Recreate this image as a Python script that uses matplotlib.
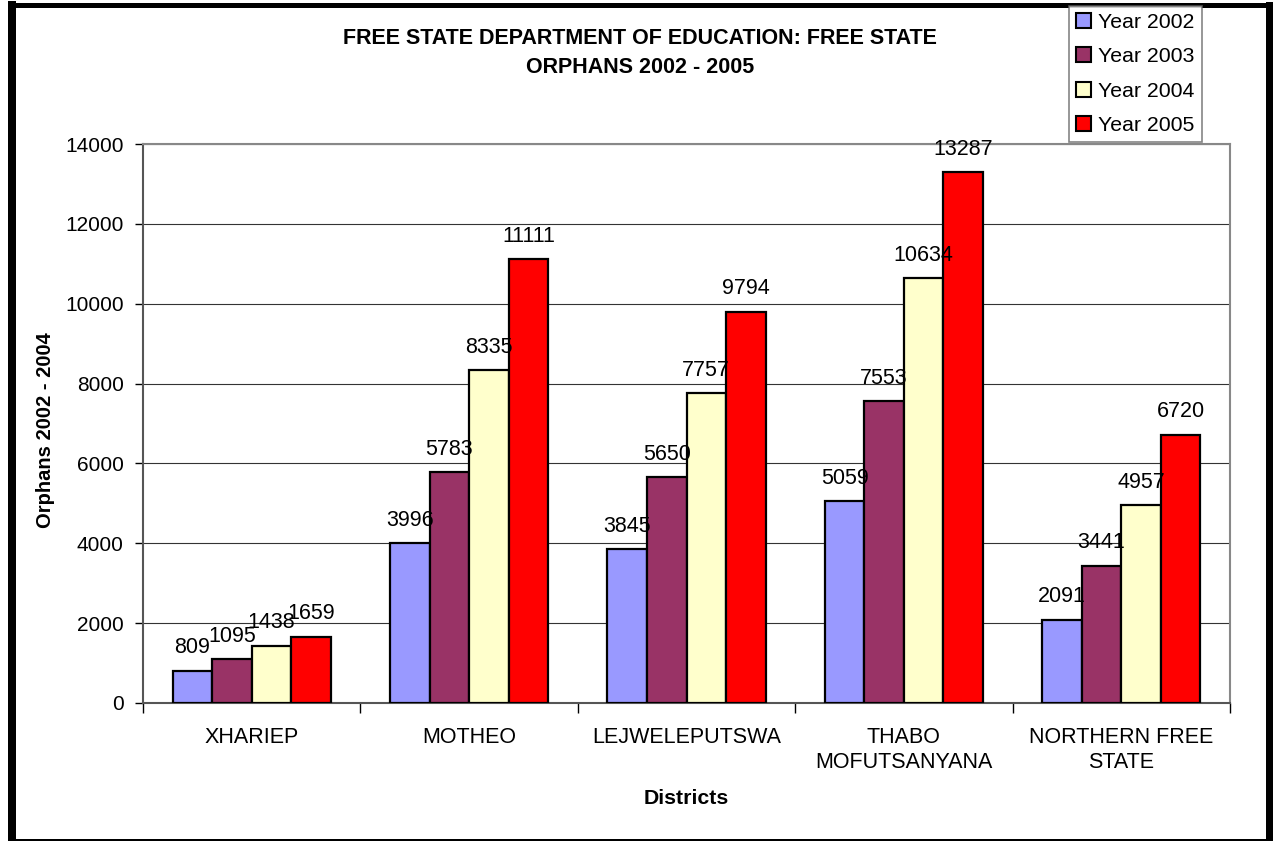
import matplotlib
matplotlib.use("Agg")
import matplotlib.pyplot as plt
from matplotlib.lines import Line2D
from matplotlib.patches import Patch
import numpy as np

plt.rcParams['font.family'] = ['Liberation Sans', 'DejaVu Sans']

districts = ["XHARIEP", "MOTHEO", "LEJWELEPUTSWA", "THABO\nMOFUTSANYANA", "NORTHERN FREE\nSTATE"]
years = ["Year 2002", "Year 2003", "Year 2004", "Year 2005"]
y2002 = [809, 3996, 3845, 5059, 2091]
y2003 = [1095, 5783, 5650, 7553, 3441]
y2004 = [1438, 8335, 7757, 10634, 4957]
y2005 = [1659, 11111, 9794, 13287, 6720]
colors = ["#9999FF", "#993366", "#FFFFCC", "#FF0000"]
yticks = [0, 2000, 4000, 6000, 8000, 10000, 12000, 14000]

W, H = 1274, 841
fig = plt.figure(figsize=(W / 100, H / 100), dpi=100)
ax_l, ax_r, ax_t, ax_b = 143, 1230, 144, 703
ax = fig.add_axes([ax_l / W, 1 - ax_b / H, (ax_r - ax_l) / W, (ax_b - ax_t) / H])

series = [y2002, y2003, y2004, y2005]
n = len(series)
x = np.arange(len(districts))
bw = 0.727 / n
for i, (vals, c, lab) in enumerate(zip(series, colors, years)):
    pos = x - 0.727 / 2 + bw * (i + 0.5)
    ax.bar(pos, vals, width=bw, color=c, edgecolor="black", linewidth=1.6, label=lab, zorder=3)
    for p, v in zip(pos, vals):
        ax.annotate(str(v), (p, v), xytext=(0, 9), textcoords="offset points",
                    ha="center", va="bottom", fontsize=15.5, zorder=4)

ax.set_xlim(-0.5, len(districts) - 0.5)
ax.set_ylim(0, 14000)
ax.set_yticks(yticks)
ax.set_yticklabels([str(t) for t in yticks], fontsize=15)
ax.tick_params(axis='y', length=6, width=1, pad=8)
ax.yaxis.grid(True, color="#333333", linewidth=0.8, zorder=0)
ax.set_axisbelow(True)

ax.set_xticks(x)
ax.set_xticklabels(districts, fontsize=15.5, linespacing=1.25)
ax.tick_params(axis='x', length=0, pad=17)
ax.set_xticks(np.arange(len(districts) + 1) - 0.5, minor=True)
ax.tick_params(axis='x', which='minor', length=7, width=1, direction='out')

for s in ["top", "right"]:
    ax.spines[s].set_color("#888888")
    ax.spines[s].set_linewidth(1.5)
ax.spines["left"].set_color("#555555")
ax.spines["left"].set_linewidth(1.5)
ax.spines["bottom"].set_color("#555555")
ax.spines["bottom"].set_linewidth(1.5)

ax.set_ylabel("Orphans 2002 - 2004", fontsize=14.5, fontweight="bold", va="center")
ax.yaxis.set_label_coords((46 - ax_l) / (ax_r - ax_l), (ax_b - 430) / (ax_b - ax_t))
ax.set_xlabel("Districts", fontsize=15.3, fontweight="bold", va="center")
ax.xaxis.set_label_coords(0.5, (ax_b - 799) / (ax_b - ax_t))

fig.text(640 / W, 1 - 53 / H, "FREE STATE DEPARTMENT OF EDUCATION: FREE STATE\nORPHANS 2002 - 2005",
         ha="center", va="center", fontsize=15.5, fontweight="bold", linespacing=1.5)

handles = [Patch(facecolor=c, edgecolor="black", linewidth=1.5) for c in colors]
leg = fig.legend(handles, years, loc="upper left", bbox_to_anchor=(1069 / W, 1 - 6 / H),
                 fontsize=15.3, frameon=True, fancybox=False, edgecolor="#666666",
                 handlelength=0.7, handleheight=0.7, handletextpad=0.35,
                 labelspacing=0.72, borderpad=0.33, borderaxespad=0)
leg.get_frame().set_linewidth(1.2)

# figure border
def fline(x0, y0, x1, y1, lw):
    fig.add_artist(Line2D([x0 / W, x1 / W], [1 - y0 / H, 1 - y1 / H], color="black",
                          linewidth=lw * 0.72, transform=fig.transFigure, solid_capstyle="projecting"))

fline(12, 5, 12, 839, 8)
fline(1269, 5, 1269, 839, 7)
fline(12, 5, 1269, 5, 5)
fline(12, 839.5, 1269, 839.5, 3)

fig.savefig("out.png", dpi=100)
